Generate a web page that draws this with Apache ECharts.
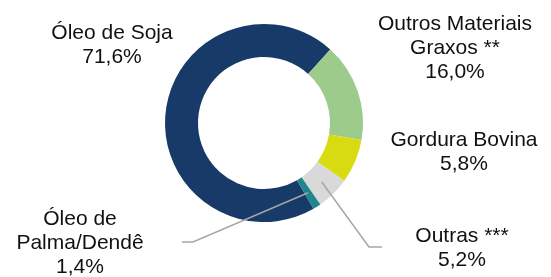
<!DOCTYPE html>
<html>
<head>
<meta charset="utf-8">
<script src="https://cdn.jsdelivr.net/npm/echarts@6/dist/echarts.min.js"></script>
<style>
  html, body {margin: 0; padding: 0; background: #fff;}
  #chart {width: 551px; height: 277px;}
</style>
</head>
<body>
<div id="chart"></div>
<script>
// fatias na ordem do desenho (sentido horario a partir de Óleo de Soja)
const names = ['Óleo de Soja', 'Outros Materiais\nGraxos **', 'Gordura Bovina', 'Outras ***', 'Óleo de\nPalma/Dendê']
const shares = [70.0, 16.1, 7.2, 5.4, 1.3]
const pctLabels = ['71,6%', '16,0%', '5,8%', '5,2%', '1,4%']
const colors = ['#173a69', '#9ccb8c', '#d9db12', '#d9d9d9', '#21858f']

const cx = 264, cy = 123, rIn = 66, rOut = 99

// posicao dos rotulos (centro do bloco)
const labelPos = [[112, 45], [455, 48], [464, 152], [462, 248], [80, 243]]
// ponto de quebra e fim das linhas guia
const leaders = {3: [[369, 247], [382, 247]], 4: [[193, 242], [182, 242]]}

const chart = echarts.init(document.getElementById('chart'))
chart.setOption({
  animation: false,
  series: [
    {
      // anel
      type: 'pie',
      z: 2,
      center: [cx, cy],
      radius: [rIn, rOut],
      startAngle: -60,
      silent: true,
      label: {show: false},
      labelLine: {show: false},
      data: names.map((n, i) => ({name: n, value: shares[i], itemStyle: {color: colors[i]}}))
    },
    {
      // rotulos e linhas guia por cima do anel
      type: 'pie',
      z: 5,
      center: [cx, cy],
      radius: [rIn, rOut],
      startAngle: -60,
      silent: true,
      avoidLabelOverlap: false,
      itemStyle: {color: 'transparent'},
      data: names.map((n, i) => ({name: n, value: shares[i], labelLine: {show: !!leaders[i]}})),
      label: {
        show: true,
        position: 'outside',
        formatter: (p) => p.name + '\n' + pctLabels[p.dataIndex],
        fontFamily: 'Liberation Sans',
        fontSize: 21,
        lineHeight: 24,
        color: '#111',
        align: 'center'
      },
      labelLine: {
        lineStyle: {color: '#a6a6a6', width: 1.5}
      },
      labelLayout: (params) => {
        const i = params.dataIndex
        const out = {
          x: labelPos[i][0],
          y: labelPos[i][1],
          align: 'center',
          verticalAlign: 'middle'
        }
        if (leaders[i] && params.labelLinePoints) {
          const p0 = params.labelLinePoints[0]
          const k = (rIn + rOut) / 2 / rOut
          const start = [cx + (p0[0] - cx) * k, cy + (p0[1] - cy) * k]
          out.labelLinePoints = [start, leaders[i][0], leaders[i][1]]
        }
        return out
      }
    }
  ]
})
</script>
</body>
</html>
